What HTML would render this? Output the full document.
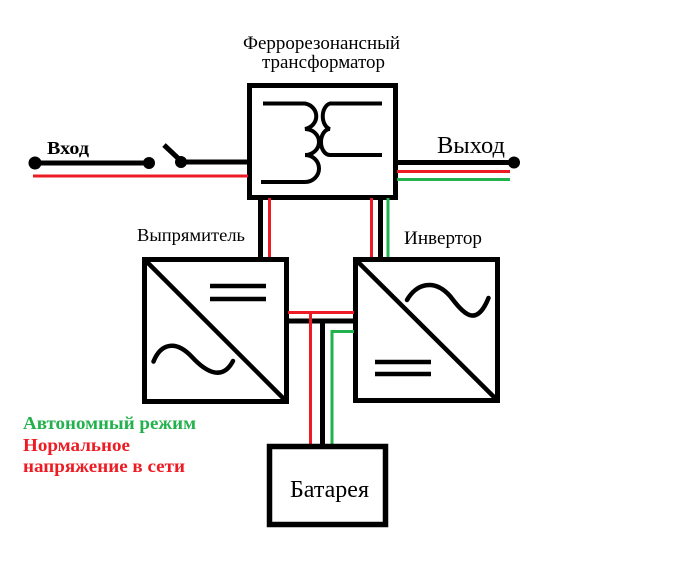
<!DOCTYPE html>
<html>
<head>
<meta charset="utf-8">
<style>
  html, body { margin: 0; padding: 0; background: #fff; }
  svg { display: block; }
  text { font-family: "Liberation Serif", "Noto Serif CJK SC", serif; }
</style>
</head>
<body>
<svg width="688" height="564" viewBox="0 0 688 564" xmlns="http://www.w3.org/2000/svg">
  <rect x="0" y="0" width="688" height="564" fill="#fff"/>

  <!-- Title -->
  <text x="243" y="49" font-size="19" textLength="157" lengthAdjust="spacingAndGlyphs" fill="#000">Феррорезонансный</text>
  <text x="262" y="68" font-size="19" textLength="123" lengthAdjust="spacingAndGlyphs" fill="#000">трансформатор</text>

  <!-- Transformer box -->
  <rect x="249.5" y="85.5" width="146" height="112" fill="none" stroke="#000" stroke-width="5"/>
  <!-- coils -->
  <path d="M263,103.5 H305 A14 13 0 0 1 305,129 A14 13 0 0 1 305,155 A14 13.5 0 0 1 305,182 H261" fill="none" stroke="#000" stroke-width="4"/>
  <path d="M382,103.5 H330 A9 13 0 0 0 330,129 A9 13 0 0 0 330,155 H382" fill="none" stroke="#000" stroke-width="4"/>

  <!-- Input -->
  <text x="47" y="154" font-size="18" font-weight="bold" textLength="42" lengthAdjust="spacingAndGlyphs" fill="#000">Вход</text>
  <line x1="35" y1="163" x2="149" y2="163" stroke="#000" stroke-width="5"/>
  <circle cx="35" cy="163" r="6.5" fill="#000"/>
  <circle cx="149" cy="163" r="6" fill="#000"/>
  <line x1="164" y1="145" x2="181" y2="161" stroke="#000" stroke-width="5"/>
  <circle cx="181" cy="162" r="6" fill="#000"/>
  <line x1="181" y1="162" x2="248" y2="162" stroke="#000" stroke-width="5"/>
  <line x1="33" y1="176" x2="248" y2="176" stroke="#ed1c24" stroke-width="3"/>

  <!-- Output -->
  <text x="437" y="153" font-size="24" textLength="68" lengthAdjust="spacingAndGlyphs" fill="#000">Выход</text>
  <line x1="397" y1="162.5" x2="514" y2="162.5" stroke="#000" stroke-width="5"/>
  <circle cx="514" cy="162.5" r="6" fill="#000"/>
  <line x1="397" y1="171.5" x2="510" y2="171.5" stroke="#ed1c24" stroke-width="3"/>
  <line x1="397" y1="179.5" x2="510" y2="179.5" stroke="#22b14c" stroke-width="3"/>

  <!-- Transformer -> rectifier wires -->
  <line x1="260.5" y1="198" x2="260.5" y2="258" stroke="#000" stroke-width="5"/>
  <line x1="269.5" y1="198" x2="269.5" y2="258" stroke="#ed1c24" stroke-width="3"/>

  <!-- Transformer -> inverter wires -->
  <line x1="371.5" y1="198" x2="371.5" y2="258" stroke="#ed1c24" stroke-width="3"/>
  <line x1="380.5" y1="198" x2="380.5" y2="258" stroke="#000" stroke-width="5"/>
  <line x1="388" y1="198" x2="388" y2="258" stroke="#22b14c" stroke-width="3"/>

  <!-- Labels -->
  <text x="137" y="241" font-size="18" textLength="108" lengthAdjust="spacingAndGlyphs" fill="#000">Выпрямитель</text>
  <text x="404" y="244" font-size="19" textLength="78" lengthAdjust="spacingAndGlyphs" fill="#000">Инвертор</text>

  <!-- Rectifier -->
  <rect x="144.5" y="259.5" width="142" height="142" fill="none" stroke="#000" stroke-width="5"/>
  <line x1="146" y1="261" x2="285" y2="400" stroke="#000" stroke-width="4.5"/>
  <line x1="210" y1="286" x2="266" y2="286" stroke="#000" stroke-width="4.5"/>
  <line x1="210" y1="299" x2="266" y2="299" stroke="#000" stroke-width="4.5"/>
  <path d="M153.5,361.5 C161,343 176,340 192,357 C205,371 222,382 233,361" fill="none" stroke="#000" stroke-width="4.5" stroke-linecap="round"/>

  <!-- Inverter -->
  <rect x="355.5" y="259.5" width="142" height="141" fill="none" stroke="#000" stroke-width="5"/>
  <line x1="357" y1="261" x2="496" y2="399" stroke="#000" stroke-width="4.5"/>
  <line x1="375" y1="362" x2="431" y2="362" stroke="#000" stroke-width="4.5"/>
  <line x1="375" y1="374" x2="431" y2="374" stroke="#000" stroke-width="4.5"/>
  <path d="M407,300 C416,284 434,278 450,296 C463,313 476,329 488.5,298" fill="none" stroke="#000" stroke-width="4.5" stroke-linecap="round"/>

  <!-- Rectifier <-> inverter wires -->
  <line x1="288" y1="312.5" x2="354" y2="312.5" stroke="#ed1c24" stroke-width="3"/>
  <line x1="288" y1="321" x2="354" y2="321" stroke="#000" stroke-width="5"/>
  <polyline points="354,331.5 332,331.5 332,446" fill="none" stroke="#22b14c" stroke-width="3"/>
  <line x1="310.5" y1="312.5" x2="310.5" y2="446" stroke="#ed1c24" stroke-width="3"/>
  <line x1="322.5" y1="321" x2="322.5" y2="446" stroke="#000" stroke-width="5"/>

  <!-- Battery -->
  <rect x="269.5" y="446.5" width="116" height="78" fill="none" stroke="#000" stroke-width="5.5"/>
  <text x="290" y="497" font-size="24" textLength="79" lengthAdjust="spacingAndGlyphs" fill="#000">Батарея</text>

  <!-- Legend -->
  <text x="23" y="429" font-size="18" font-weight="bold" textLength="173" lengthAdjust="spacingAndGlyphs" fill="#22b14c">Автономный режим</text>
  <text x="23" y="451" font-size="18" font-weight="bold" textLength="107" lengthAdjust="spacingAndGlyphs" fill="#ed1c24">Нормальное</text>
  <text x="23" y="472" font-size="18" font-weight="bold" textLength="162" lengthAdjust="spacingAndGlyphs" fill="#ed1c24">напряжение в сети</text>
</svg>
</body>
</html>
